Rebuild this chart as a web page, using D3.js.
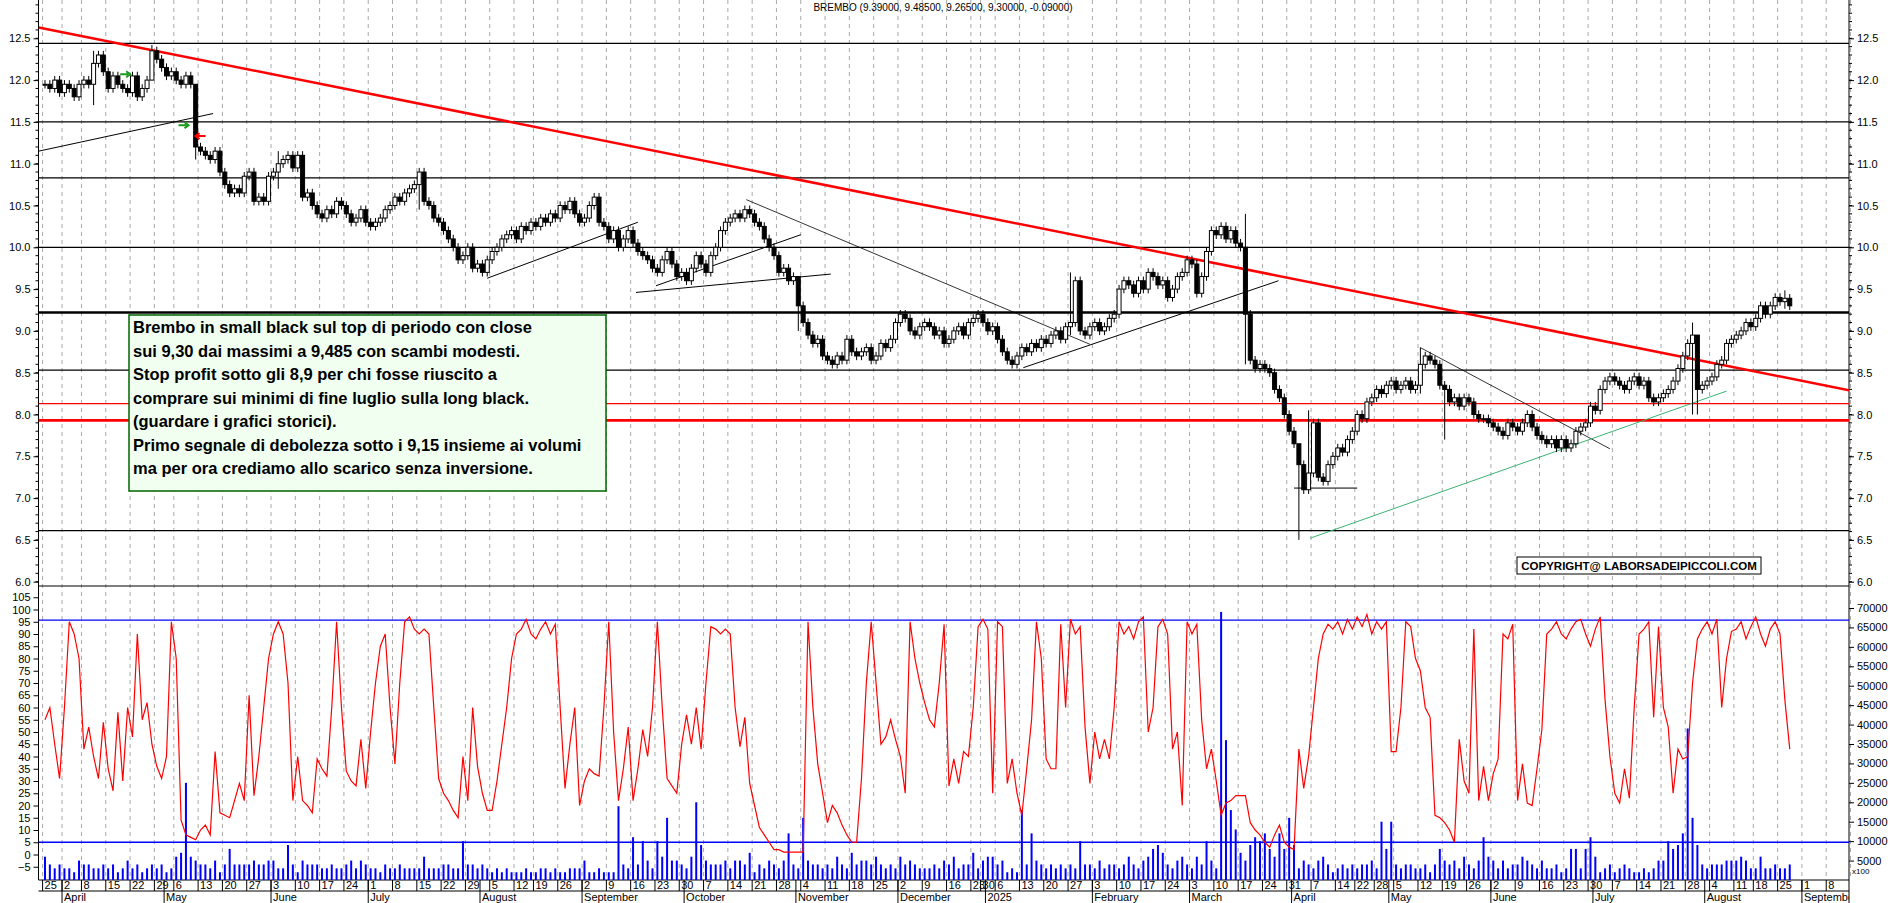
<!DOCTYPE html>
<html><head><meta charset="utf-8">
<script src="https://cdn.jsdelivr.net/npm/d3@7"></script>
<style>body{margin:0;background:#fff}svg{display:block;font-family:Arial,"Liberation Sans",sans-serif}</style>
</head><body><svg id="c" width="1890" height="903"></svg>
<script>
"use strict";

var title = "BREMBO (9.39000, 9.48500, 9.26500, 9.30000, -0.09000)";
var closes = [11.95,11.9,12.0,11.85,11.95,11.9,11.8,11.95,12.0,11.95,12.2,12.3,12.1,11.9,12.05,11.95,11.9,11.85,12.05,11.8,11.9,12.0,12.35,
 12.25,12.15,12.05,12.1,12.0,11.95,12.05,11.95,11.2,11.15,11.1,11.05,11.15,
 10.9,10.75,10.65,10.7,10.65,10.85,10.9,10.55,10.6,10.55,10.85,10.9,11.0,
 11.05,11.1,10.95,11.1,10.6,10.65,10.5,10.4,10.35,10.45,10.4,10.55,
 10.5,10.4,10.3,10.35,10.45,10.3,10.25,10.3,10.35,10.45,10.5,10.6,10.55,10.65,10.7,
 10.75,10.9,10.55,10.5,10.35,10.3,10.2,10.1,10.0,9.85,
 9.9,10.0,9.75,9.8,9.7,9.85,9.95,10.0,10.1,10.15,10.2,10.1,10.25,10.2,10.3,
 10.25,10.35,10.3,10.4,10.35,10.5,10.45,10.55,10.4,10.3,10.35,10.5,10.6,10.3,10.25,
 10.1,10.2,10.0,10.1,10.2,10.05,9.95,9.9,9.85,9.75,9.7,9.85,9.95,9.8,9.65,
 9.7,9.6,9.75,9.9,9.8,9.7,9.9,10.0,10.2,10.3,10.35,10.4,10.35,10.45,10.4,
 10.3,10.25,10.1,10.0,9.9,9.7,9.75,9.6,9.65,9.3,9.1,8.95,8.85,8.9,8.7,
 8.65,8.6,8.7,8.65,8.9,8.75,8.7,8.75,8.8,8.65,8.7,8.85,8.8,8.9,9.1,9.2,9.15,9.0,8.95,9.05,
 9.1,9.05,8.95,9.0,8.85,8.9,9.0,9.05,8.95,9.1,9.15,9.2,9.1,9.0,9.05,8.9,8.75,8.65,8.6,8.7,
 8.8,8.75,8.85,8.8,8.9,8.85,8.95,9.0,8.9,9.05,9.1,9.6,9.0,8.95,9.05,9.1,9.0,9.05,9.15,9.2,
 9.5,9.6,9.55,9.45,9.6,9.5,9.7,9.65,9.55,9.6,9.4,9.5,9.65,9.7,9.85,9.8,9.45,9.65,9.95,10.2,
 10.15,10.25,10.1,10.2,10.05,10.0,9.2,8.65,8.55,8.6,
 8.55,8.5,8.3,8.2,8.0,7.8,7.65,7.4,7.1,7.3,7.9,7.25,7.2,7.4,7.5,
 7.6,7.55,7.7,7.8,8.0,7.95,8.15,8.2,8.3,8.25,8.35,8.4,8.3,8.35,8.4,
 8.3,8.35,8.6,8.7,8.65,8.6,8.35,8.3,8.15,8.2,8.1,8.2,8.15,8.0,7.95,
 7.95,7.9,7.85,7.8,7.75,7.9,7.85,7.8,7.9,8.0,7.85,7.75,7.7,7.65,7.7,7.6,7.7,7.6,7.65,7.8,
 7.85,7.9,8.1,8.05,8.3,8.4,8.45,8.4,8.35,8.3,8.4,8.45,8.35,8.4,8.2,8.15,8.2,8.25,8.3,8.4,
 8.55,8.7,8.85,8.95,8.3,8.35,8.4,8.45,8.6,8.65,8.85,8.9,8.95,9.0,9.1,9.05,9.15,9.3,9.2,9.3,9.4,9.35,9.39,9.3];
// days whose shadows stand out: [index, high, low]
var longShadows = [[10,12.35,11.7],[22,12.42,12.0],[31,11.95,11.05],[48,11.15,10.7],[77,10.95,10.45],
  [155,9.65,9.0],[211,9.7,8.95],[247,10.4,8.6],[258,7.45,6.5],[260,8.05,7.05],[283,8.8,8.25],
  [288,8.4,7.7],[339,9.1,8.0],[340,8.95,8.0],[358,9.485,9.265]];

var oscillator = [55,60,45,31,60,95,90,80,43,52,40,31,54,35,26,58,30,60,48,90,55,62,45,36,31,40,95,80,14,8,
 7,6,10,12,8,42,17,16,15,22,29,22,65,24,40,60,80,90,95,90,70,22,40,22,20,17,39,35,32,60,
 95,60,34,30,28,47,27,50,70,85,90,60,37,70,95,97,92,90,92,90,60,31,25,22,18,15,40,22,60,36,
 25,18,18,30,45,60,80,90,92,96,90,88,92,95,90,94,60,27,45,60,20,30,35,33,32,60,95,50,22,35,
 52,22,35,51,40,60,95,60,31,28,25,45,57,45,60,43,70,93,92,90,92,90,60,44,56,29,20,11,8,5,
 2,2,1,1,1,1,1,95,60,37,25,13,20,17,12,8,5,5,31,70,95,70,45,48,55,47,40,25,95,80,
 70,62,55,52,70,94,28,39,29,42,40,60,93,96,92,25,95,93,29,39,25,16,35,55,95,80,39,35,35,94,
 60,96,90,93,52,29,50,39,47,39,60,95,90,93,88,95,97,50,60,93,96,90,43,50,20,95,90,94,55,35,
 43,30,16,21,22,24,24,24,13,10,8,5,3,8,12,5,3,2,43,27,40,60,80,90,94,92,95,90,96,92,
 97,93,98,90,95,92,95,42,42,60,95,93,80,75,60,56,16,15,13,10,5,47,30,25,92,22,36,22,33,39,
 90,88,94,22,37,21,20,35,51,90,92,95,90,88,92,95,96,90,85,92,97,63,40,25,21,35,23,60,90,92,
 95,56,93,60,52,25,43,39,40,70,88,92,95,90,96,60,80,91,92,95,88,93,97,90,85,92,95,90,63,43];

// volume, in thousands of shares
var volume = [6,4,3,4,3,3,2,5,4,4,3,3,4,3,4,2,3,5,3,4,2,3,4,3,4,2,3,6,7,25,
 6,5,4,4,3,5,2,4,8,4,4,4,4,5,4,4,5,5,3,3,9,4,2,5,4,4,4,3,3,4,
 3,3,4,5,3,5,4,3,3,2,4,3,3,4,3,3,3,3,6,3,3,3,4,4,3,3,10,4,4,3,
 4,3,2,3,2,3,2,2,2,3,2,2,3,3,2,3,2,2,3,3,3,5,2,2,3,2,2,2,19,4,
 3,11,4,10,5,3,10,6,16,5,5,4,3,6,20,9,5,4,4,4,5,3,5,5,4,7,2,4,3,5,
 4,3,5,12,4,3,16,5,4,4,3,4,3,6,4,3,7,4,5,5,4,6,4,3,4,3,6,4,5,4,
 3,3,3,4,3,5,4,6,3,4,4,7,3,5,6,6,4,5,2,3,2,18,4,12,5,4,3,4,3,4,
 3,4,3,10,4,4,3,5,3,4,4,3,4,6,4,3,5,6,8,9,7,4,3,5,6,4,3,6,4,10,
 5,3,69,36,18,13,7,5,9,11,10,12,8,6,12,8,16,9,3,5,4,3,5,6,4,2,3,4,3,4,
 3,4,4,5,3,15,8,15,4,3,4,4,3,3,4,2,4,8,5,4,5,3,6,4,3,5,11,6,5,3,
 5,3,4,4,6,5,4,3,5,3,3,4,2,3,8,8,3,8,11,6,2,3,4,2,3,4,3,2,2,3,
 2,3,5,5,10,8,9,12,39,16,9,4,3,4,4,4,5,5,5,6,5,3,3,6,3,3,4,3,3,4];

var priceTicks = d3.range(6, 12.51, 0.5);
var oscTicks = d3.range(-5, 105.1, 5);
var volTicks = d3.range(5000, 70001, 5000);
var levels = [12.44, 11.5, 10.83, 10.0, 8.53, 6.61];
var thickLevels = [9.22];
var redLevels = [8.13];
var redThickLevels = [7.93];
// trend lines: [x0 index, price0, x1 index, price1, colour, width]
var trendLines = [
  [-1.3, 12.63, 371.2, 8.29, "#ff0000", 2.5],
  [-1.3, 11.15, 34.6, 11.6, "#000", 1],
  [91, 9.63, 122, 10.3, "#000", 1],
  [121.6, 9.46, 161.7, 9.68, "#000", 1],
  [125.7, 9.54, 155.5, 10.15, "#000", 1],
  [144.3, 10.57, 215, 8.84, "#000", 0.8],
  [201.3, 8.56, 253.8, 9.6, "#000", 1],
  [257, 7.12, 270, 7.12, "#000", 1],
  [283, 8.8, 322, 7.59, "#000", 0.8],
  [260.3, 6.52, 346, 8.28, "#3cb371", 1]
];
var oscLines = [5, 95.7];
var noteLines = [
  "Brembo in small black sul top di periodo con close",
  "sui 9,30 dai massimi a 9,485 con scambi modesti.",
  "Stop profit sotto gli 8,9 per chi fosse riuscito a",
  "comprare sui minimi di fine luglio sulla long black.",
  "(guardare i grafici storici).",
  "Primo segnale di debolezza sotto i 9,15 insieme ai volumi",
  "ma per ora crediamo allo scarico senza inversione."
];
var monthNames = ["2025","February","March","April","May","June","July","August","September","October","November","December"];
var holidays = ["2024-03-29","2024-04-01","2024-05-01","2024-08-15","2024-12-24","2024-12-25","2024-12-26","2024-12-31",
  "2025-01-01","2025-04-18","2025-04-21","2025-05-01","2025-08-15"];

var L = 38.5, R = 1849, MID = 586, BOT = 880;
var svg = d3.select("#c");

// trading day calendar
var fmt = d3.timeFormat("%Y-%m-%d");
var days = d3.timeDay.range(new Date(2024, 2, 25), new Date(2025, 8, 20))
  .filter(function(d){ return d.getDay() % 6 !== 0 && holidays.indexOf(fmt(d)) < 0; });

var x = d3.scaleLinear().domain([0, 1]).range([45, 49.86]);
var yP = d3.scaleLinear().domain([6, 12.5]).range([581.7, 38.3]);
var yO = d3.scaleLinear().domain([0, 100]).range([854.5, 609.5]);
var yV = d3.scaleLinear().domain([0, 70000]).range([880, 608]);

var defs = svg.append("defs");
defs.append("clipPath").attr("id", "pc")
  .append("rect").attr("x", L).attr("y", 0).attr("width", R - L).attr("height", MID);
defs.append("clipPath").attr("id", "bc")
  .append("rect").attr("x", L).attr("y", MID).attr("width", R - L).attr("height", BOT - MID);
defs.append("clipPath").attr("id", "xa")
  .append("rect").attr("x", L).attr("y", BOT).attr("width", R - L).attr("height", 30);

// week grid + labels
var weeks = days.filter(function(d, i){ return i === 0 || d3.timeMonday.floor(d) > d3.timeMonday.floor(days[i-1]); });
var months = days.filter(function(d, i){ return i > 0 && d.getMonth() !== days[i-1].getMonth(); });
function dx(d){ return x(days.indexOf(d)) - 2.4; }

svg.append("g").selectAll("line").data(weeks).join("line")
  .attr("x1", dx).attr("x2", dx).attr("y1", 0).attr("y2", BOT)
  .attr("stroke", "#aaa").attr("stroke-dasharray", "4,4");

var ax = svg.append("g").attr("clip-path", "url(#xa)");
ax.selectAll("line.w").data(weeks).join("line")
  .attr("x1", dx).attr("x2", dx).attr("y1", BOT).attr("y2", 891).attr("stroke", "#000");
ax.selectAll("text.w").data(weeks).join("text")
  .attr("x", function(d){ return dx(d) + 2; }).attr("y", 889).attr("font-size", 11)
  .text(function(d){ return d.getDate(); });
ax.selectAll("line.m").data(months).join("line")
  .attr("x1", dx).attr("x2", dx).attr("y1", BOT).attr("y2", 903).attr("stroke", "#000");
ax.selectAll("text.m").data(months).join("text")
  .attr("x", function(d){ return dx(d) + 2; }).attr("y", 901).attr("font-size", 11)
  .text(function(d){ return monthNames[d.getMonth()]; });
svg.append("line").attr("x1", L).attr("x2", R).attr("y1", 891).attr("y2", 891).attr("stroke", "#000");
svg.append("line").attr("x1", L).attr("x2", R).attr("y1", BOT).attr("y2", BOT).attr("stroke", "#000");

// frames and axes
svg.append("line").attr("x1", L).attr("x2", L).attr("y1", 0).attr("y2", BOT).attr("stroke", "#000");
svg.append("line").attr("x1", R).attr("x2", R).attr("y1", 0).attr("y2", 903).attr("stroke", "#000");
svg.append("line").attr("x1", L).attr("x2", R).attr("y1", MID).attr("y2", MID).attr("stroke", "#000");

function sideAxis(axisFn, scale, ticks, minor, fmtFn, xpos, y0, y1){
  var g = svg.append("g").attr("transform", "translate(" + xpos + ",0)")
    .call(axisFn(scale).tickValues(ticks).tickSize(5).tickFormat(fmtFn));
  g.select(".domain").remove();
  g.selectAll("text").attr("font-size", 11).attr("fill", "#000");
  if (minor) g.selectAll("line.mn").data(minor.filter(function(v){ var p = scale(v); return p > y0 && p < y1; })).join("line")
    .attr("class", "mn").attr("x1", 0).attr("x2", axisFn === d3.axisLeft ? -3 : 3)
    .attr("y1", function(v){ return scale(v); }).attr("y2", function(v){ return scale(v); }).attr("stroke", "#000");
  return g;
}
var pfmt = d3.format(".1f");
sideAxis(d3.axisLeft, yP, priceTicks, d3.range(5.9, 12.95, 0.1), pfmt, L, 0, MID);
sideAxis(d3.axisRight, yP, priceTicks, d3.range(5.9, 12.95, 0.1), pfmt, R, 0, MID);
sideAxis(d3.axisLeft, yO, oscTicks, null, d3.format("d"), L, MID, BOT);
sideAxis(d3.axisRight, yV, volTicks, null, d3.format("d"), R, MID, BOT);
svg.append("text").attr("x", R + 3).attr("y", 874).attr("font-size", 8).text("x100");

// level lines
var pc = svg.append("g").attr("clip-path", "url(#pc)");
function hlines(vals, col, w){
  pc.selectAll(null).data(vals).join("line").attr("x1", L).attr("x2", R)
    .attr("y1", yP).attr("y2", yP).attr("stroke", col).attr("stroke-width", w);
}
hlines(levels, "#000", 1.3);
hlines(thickLevels, "#000", 2.6);
hlines(redLevels, "#ff0000", 1.3);
hlines(redThickLevels, "#ff0000", 2.6);
pc.selectAll(null).data(trendLines).join("line")
  .attr("x1", function(d){ return x(d[0]); }).attr("y1", function(d){ return yP(d[1]); })
  .attr("x2", function(d){ return x(d[2]); }).attr("y2", function(d){ return yP(d[3]); })
  .attr("stroke", function(d){ return d[4]; }).attr("stroke-width", function(d){ return d[5]; });

// candles (open = previous close)
var candles = closes.map(function(c, i){
  var o = i ? closes[i-1] : c;
  return {i: i, o: o, c: c, h: Math.max(o, c) + 0.05, l: Math.min(o, c) - 0.05};
});
longShadows.forEach(function(s){ if (candles[s[0]]) { candles[s[0]].h = s[1]; candles[s[0]].l = s[2]; } });
var cg = pc.append("g");
cg.selectAll("line").data(candles).join("line")
  .attr("x1", function(d){ return x(d.i); }).attr("x2", function(d){ return x(d.i); })
  .attr("y1", function(d){ return yP(d.h); }).attr("y2", function(d){ return yP(d.l); }).attr("stroke", "#000");
cg.selectAll("rect").data(candles).join("rect")
  .attr("x", function(d){ return x(d.i) - 2; }).attr("width", 4)
  .attr("y", function(d){ return yP(Math.max(d.o, d.c)); })
  .attr("height", function(d){ return Math.max(1, Math.abs(yP(d.o) - yP(d.c))); })
  .attr("fill", function(d){ return d.c >= d.o ? "#fff" : "#000"; }).attr("stroke", "#000");

// arrows
function arrow(i, p, col, dir){
  var cx = x(i), cy = yP(p);
  pc.append("path").attr("d", "M" + (cx - 5 * dir) + "," + cy + "H" + (cx + 3 * dir) + "M" + (cx + 1 * dir) + "," + (cy - 3) + "L" + (cx + 5 * dir) + "," + cy + "L" + (cx + 1 * dir) + "," + (cy + 3))
    .attr("stroke", col).attr("stroke-width", 2).attr("fill", "none");
}
arrow(16.5, 12.07, "#1a9a1a", 1);
arrow(28.5, 11.46, "#1a9a1a", 1);
arrow(32, 11.33, "#ff0000", -1);

// note box
var nb = svg.append("g");
nb.append("rect").attr("x", 129).attr("y", 315).attr("width", 477).attr("height", 176)
  .attr("fill", "#f0fff0").attr("stroke", "#006400").attr("stroke-width", 1.5);
nb.selectAll("text").data(noteLines).join("text")
  .attr("x", 133).attr("y", function(d, i){ return 333 + i * 23.5; })
  .attr("font-size", 16.5).attr("font-weight", "bold").text(function(d){ return d; });

svg.append("rect").attr("x", 1517).attr("y", 557).attr("width", 244).attr("height", 17).attr("fill", "#fff").attr("stroke", "#000");
svg.append("text").attr("x", 1639).attr("y", 570).attr("text-anchor", "middle").attr("font-size", 11.5)
  .attr("font-weight", "bold").text("COPYRIGHT@ LABORSADEIPICCOLI.COM");
svg.append("text").attr("x", 943).attr("y", 11).attr("text-anchor", "middle").attr("font-size", 10).text(title);

// lower panel
var bc = svg.append("g").attr("clip-path", "url(#bc)");
bc.selectAll(null).data(volume).join("rect")
  .attr("x", function(d, i){ return x(i) - 1; }).attr("width", 2)
  .attr("y", function(d){ return yV(d * 1000); }).attr("height", function(d){ return BOT - yV(d * 1000); })
  .attr("fill", "#0000ff");
bc.selectAll(null).data(oscLines).join("line").attr("x1", L).attr("x2", R)
  .attr("y1", yO).attr("y2", yO).attr("stroke", "#0000ff").attr("stroke-width", 1.3);
bc.append("path").datum(oscillator)
  .attr("d", d3.line().x(function(d, i){ return x(i); }).y(function(d){ return yO(d); }))
  .attr("fill", "none").attr("stroke", "#ff0000").attr("stroke-width", 1.2);
</script></body></html>
